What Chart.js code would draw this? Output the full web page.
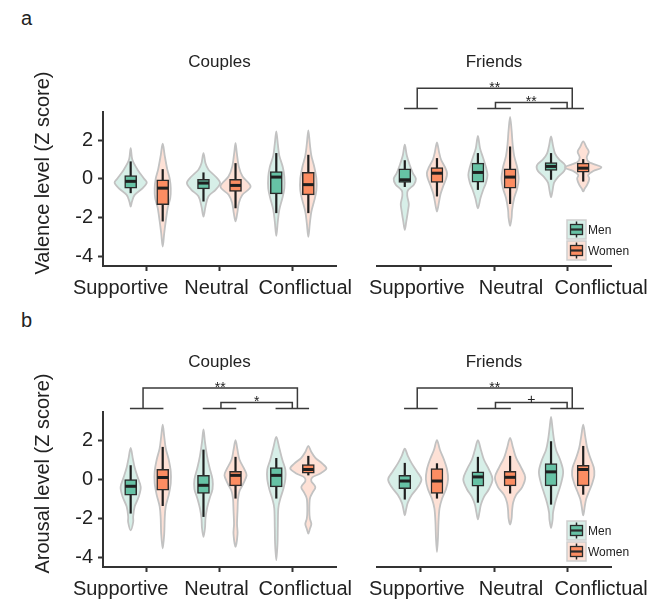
<!DOCTYPE html>
<html>
<head>
<meta charset="utf-8">
<script src="https://cdn.jsdelivr.net/npm/chart.js@4.4.1/dist/chart.umd.min.js"></script>
<style>
html,body{margin:0;padding:0;background:#fff;}
#wrap{position:relative;width:665px;height:610px;overflow:hidden;font-family:'Liberation Sans',Arial,sans-serif;background:#fff;}
canvas{position:absolute;}
.lab{position:absolute;font-size:20px;color:#222;line-height:1;}
</style>
</head>
<body>
<div id="wrap">
  <div class="lab" style="left:21px;top:8px">a</div>
  <div class="lab" style="left:21px;top:310px">b</div>
  <canvas id="c1" width="365" height="300" style="left:0;top:0"></canvas>
  <canvas id="c2" width="345" height="300" style="left:320px;top:0"></canvas>
  <canvas id="c3" width="365" height="310" style="left:0;top:300px"></canvas>
  <canvas id="c4" width="345" height="310" style="left:320px;top:300px"></canvas>
</div>
<script>
// ---------------- DATA ----------------
const categories = ['Supportive', 'Neutral', 'Conflictual'];
const yTicks = [-4, -2, 0, 2];
const panelTitles = ['Couples', 'Friends'];
const yTitles = ['Valence level (Z score)', 'Arousal level (Z score)'];
const genders = ['Men', 'Women'];

// Box stats per category: [lower whisker, Q1, median, Q3, upper whisker]
const valenceCouplesMenBox   = [[-0.74,-0.48,-0.13,0.17,0.90],[-1.17,-0.52,-0.22,0.00,0.33],[-1.77,-0.78,0.09,0.38,1.33]];
const valenceCouplesWomenBox = [[-2.20,-1.34,-0.48,-0.05,0.50],[-1.52,-0.65,-0.34,-0.02,0.81],[-1.77,-0.83,-0.30,0.33,1.24]];
const valenceFriendsMenBox   = [[-0.42,-0.18,-0.05,0.52,0.96],[-0.57,-0.17,0.33,0.81,1.33],[-0.05,0.43,0.64,0.84,1.33]];
const valenceFriendsWomenBox = [[-0.91,-0.19,0.29,0.58,1.07],[-1.30,-0.48,0.09,0.52,1.67],[-0.14,0.34,0.55,0.81,1.02]];
const arousalCouplesMenBox   = [[-1.76,-0.82,-0.36,-0.02,0.72],[-1.93,-0.73,-0.31,0.20,1.52],[-0.99,-0.39,0.20,0.60,1.09]];
const arousalCouplesWomenBox = [[-1.37,-0.56,0.09,0.51,1.66],[-0.99,-0.34,0.20,0.41,1.15],[0.20,0.31,0.50,0.75,1.20]];
const arousalFriendsMenBox   = [[-1.04,-0.48,-0.09,0.20,0.84],[-1.20,-0.36,0.12,0.38,1.15],[-1.30,-0.34,0.38,0.80,1.95]];
const arousalFriendsWomenBox = [[-0.99,-0.73,-0.09,0.55,0.82],[-0.73,-0.34,0.10,0.41,1.20],[-0.79,-0.34,0.50,0.72,1.71]];

// Violin density profiles per category: [value, density half-width]
const valenceCouplesMenViolin = [
  [[1.58,0],[0.98,1.7],[0.46,7],[0.03,13],[-0.2,16],[-0.48,12],[-0.83,4],[-1.17,1.3],[-1.43,0]],
  [[1.33,0],[0.8,2],[0.47,5],[0.12,12],[-0.22,16.5],[-0.57,12],[-0.9,5],[-1.43,2],[-1.95,0]],
  [[2.45,0],[1.8,1.5],[1.2,3],[0.6,6.5],[0.1,8],[-0.5,8],[-1.0,6],[-1.6,3],[-2.2,1.5],[-2.95,0]]
];
const valenceCouplesWomenViolin = [
  [[1.81,0],[1.2,2],[0.5,4.5],[0,7],[-0.5,8],[-1.0,7.5],[-1.5,5],[-2.2,3],[-2.8,1.5],[-3.5,0]],
  [[1.84,0],[1.33,1.3],[0.63,3.3],[0.12,7],[-0.4,15],[-0.83,6.7],[-1.26,3.3],[-1.78,1.7],[-2.2,0]],
  [[2.5,0],[1.8,1.5],[1.2,3],[0.6,6],[0,8],[-0.6,8],[-1.1,6],[-1.7,3],[-2.3,1.5],[-3.0,0]]
];
const valenceFriendsMenViolin = [
  [[1.76,0],[1.2,2],[0.7,5],[0.3,8],[0,11],[-0.3,9],[-0.6,3],[-0.9,2.5],[-1.3,4],[-1.7,3],[-2.2,1.5],[-2.64,0]],
  [[2.22,0],[1.6,2],[1.1,5],[0.6,8],[0.2,9.5],[-0.2,8],[-0.6,5],[-1.0,2.5],[-1.52,0]],
  [[2.19,0],[1.7,2],[1.3,4],[1.0,8],[0.7,14],[0.4,13],[0.1,7],[-0.2,3],[-0.6,1.5],[-0.95,0]]
];
const valenceFriendsWomenViolin = [
  [[1.88,0],[1.4,2],[1.0,4],[0.6,8],[0.3,10],[0,9],[-0.4,6],[-0.8,3.5],[-1.2,2],[-1.69,0]],
  [[3.2,0],[2.5,1.5],[1.8,2.5],[1.2,4],[0.6,7],[0,8.5],[-0.5,7],[-1.0,4],[-1.6,2],[-2.0,1.5],[-2.43,0]],
  [[1.93,0],[1.65,3],[1.4,5.5],[1.1,3.5],[0.85,6],[0.6,18],[0.4,10],[0.2,5],[0,6],[-0.3,4],[-0.5,1.5],[-0.65,0]]
];
const arousalCouplesMenViolin = [
  [[1.61,0],[1.1,2],[0.6,4],[0.1,7],[-0.4,10],[-0.9,8],[-1.4,4],[-1.9,2.5],[-2.2,2.5],[-2.62,0]],
  [[2.56,0],[1.9,1.5],[1.2,3.5],[0.6,6],[0,9],[-0.5,9],[-1.0,6],[-1.5,3.5],[-2.0,2],[-2.5,1.5],[-2.96,0]],
  [[2.17,0],[1.6,3],[1.0,6],[0.5,9],[0,9],[-0.5,7],[-1.0,4],[-1.5,2],[-2.5,1.5],[-3.3,1.2],[-4.15,0]]
];
const arousalCouplesWomenViolin = [
  [[2.8,0],[2.2,1.5],[1.6,3],[1.0,6],[0.4,8],[-0.2,8],[-0.8,6],[-1.4,3],[-2.0,2],[-2.8,1.5],[-3.55,0]],
  [[2.0,0],[1.5,2],[1.0,4],[0.5,9],[0.2,11],[-0.2,8],[-0.6,4],[-1.0,2.5],[-1.6,2],[-2.3,1.5],[-2.8,2],[-3.47,0]],
  [[1.71,0],[1.4,3],[1.1,7],[0.8,14],[0.55,18],[0.3,12],[0.1,4],[-0.1,3],[-0.4,7],[-0.7,4],[-1.0,1.5],[-1.6,1],[-2.0,1.5],[-2.3,3],[-2.55,1.5],[-2.79,0]]
];
const arousalFriendsMenViolin = [
  [[1.57,0],[1.2,3],[0.8,7],[0.4,12],[0,16.5],[-0.4,13],[-0.8,7],[-1.2,3],[-1.5,1.5],[-1.85,0]],
  [[2.0,0],[1.5,3],[1.0,6],[0.5,11],[0,14.5],[-0.5,11],[-0.9,6],[-1.3,3],[-1.7,1.5],[-2.05,0]],
  [[3.2,0],[2.6,1.5],[2.0,3],[1.5,5],[1.0,9],[0.4,12],[-0.2,10],[-0.7,7],[-1.2,4],[-1.7,2],[-2.1,1.5],[-2.5,0]]
];
const arousalFriendsWomenViolin = [
  [[2.0,0],[1.5,3],[1.0,7],[0.5,10],[0,11],[-0.5,9],[-1.0,5],[-1.5,2.5],[-2.2,1.5],[-3.0,1],[-3.73,0]],
  [[2.12,0],[1.6,3],[1.1,6],[0.6,11],[0.1,15],[-0.4,12],[-0.8,6],[-1.2,3],[-1.6,2],[-2.0,1.5],[-2.32,0]],
  [[2.8,0],[2.2,2],[1.6,4],[1.1,7],[0.6,10.5],[0.2,11],[-0.2,9],[-0.6,6],[-1.0,3],[-1.4,1.5],[-1.85,0]]
];

// Significance brackets: [from category, to category, label]
const valenceCouplesBrackets = [];
const valenceFriendsBrackets = [[1, 3, '**'], [2, 3, '**']];
const arousalCouplesBrackets = [[1, 3, '**'], [2, 3, '*']];
const arousalFriendsBrackets = [[1, 3, '**'], [2, 3, '+']];

// ---------------- STYLE ----------------
const FONT = "'Liberation Sans', Arial, Helvetica, sans-serif";
Chart.defaults.font.family = FONT;
const DODGE = 0.22;            // men / women offset within a category (x units)
const DENS_UNIT = 1 / 72.5;    // violin density unit -> x-axis units
const BOX_COLORS = ['#66c2a5', '#fc8d62'];
const VIOLIN_COLORS = ['rgba(102,194,165,0.26)', 'rgba(252,141,98,0.26)'];
const BR_BASE = 3.63, BR_INNER = 3.94, BR_OUTER = 4.68, SEG_HALF = 0.23;
// horizontal nudges (px) of the category labels so they do not collide, as in the source figure
const LABEL_NUDGE_LEFT_PANEL = [-26, -3, 13];
const LABEL_NUDGE_RIGHT_PANEL = [-4, 17, 34];

function closedSpline(ctx, pts) {
  const n = pts.length;
  ctx.beginPath();
  ctx.moveTo(pts[0][0], pts[0][1]);
  for (let i = 0; i < n; i++) {
    const p0 = pts[(i - 1 + n) % n], p1 = pts[i], p2 = pts[(i + 1) % n], p3 = pts[(i + 2) % n];
    ctx.bezierCurveTo(
      p1[0] + (p2[0] - p0[0]) / 6, p1[1] + (p2[1] - p0[1]) / 6,
      p2[0] - (p3[0] - p1[0]) / 6, p2[1] - (p3[1] - p1[1]) / 6,
      p2[0], p2[1]);
  }
  ctx.closePath();
}

function drawKeyGlyph(ctx, x0, y0, s, gi) {
  ctx.fillStyle = VIOLIN_COLORS[gi];
  ctx.fillRect(x0, y0, s, s);
  ctx.strokeStyle = '#cfcfcf'; ctx.lineWidth = 1.5;
  ctx.strokeRect(x0, y0, s, s);
  const cx = x0 + s / 2;
  ctx.strokeStyle = '#222'; ctx.lineWidth = 1.5;
  ctx.beginPath(); ctx.moveTo(cx, y0 + 1.5); ctx.lineTo(cx, y0 + s - 1.5); ctx.stroke();
  ctx.fillStyle = BOX_COLORS[gi];
  ctx.fillRect(x0 + 3.5, y0 + 4.5, s - 7, s - 9);
  ctx.strokeStyle = '#2b2b2b'; ctx.lineWidth = 1.3;
  ctx.strokeRect(x0 + 3.5, y0 + 4.5, s - 7, s - 9);
  ctx.lineWidth = 2.2;
  ctx.beginPath(); ctx.moveTo(x0 + 3.5, y0 + s / 2); ctx.lineTo(x0 + s - 3.5, y0 + s / 2); ctx.stroke();
}

function buildPanel(canvasId, p) {
  const groups = [
    { box: p.menBox, violin: p.menViolin, off: -DODGE },
    { box: p.womenBox, violin: p.womenViolin, off: DODGE }
  ];
  const datasets = groups.map((g, gi) => ({
    type: 'bar',
    label: genders[gi],
    data: g.box.map((b, i) => ({ x: i + 1 + g.off, y: [b[1], b[3]] })),
    backgroundColor: BOX_COLORS[gi],
    borderColor: '#2b2b2b',
    borderWidth: 1.5,
    borderSkipped: false,
    barThickness: 12,
    grouped: false
  }));

  const plugin = {
    id: 'violinBox',
    beforeDatasetsDraw(chart) {
      const { ctx, chartArea: a, scales: { x, y } } = chart;
      ctx.save();
      ctx.beginPath(); ctx.rect(a.left, a.top - 40, a.right - a.left, a.bottom - a.top + 40); ctx.clip();
      groups.forEach((g, gi) => {
        g.violin.forEach((prof, i) => {
          const c = i + 1 + g.off;
          const right = prof.map(([v, d]) => [x.getPixelForValue(c + d * DENS_UNIT), y.getPixelForValue(v)]);
          const left = prof.slice(1, -1).reverse().map(([v, d]) => [x.getPixelForValue(c - d * DENS_UNIT), y.getPixelForValue(v)]);
          closedSpline(ctx, right.concat(left));
          ctx.fillStyle = VIOLIN_COLORS[gi];
          ctx.fill();
          ctx.strokeStyle = '#c2c2c2';
          ctx.lineWidth = 1.8;
          ctx.lineJoin = 'round';
          ctx.stroke();
        });
      });
      groups.forEach(g => {
        g.box.forEach((b, i) => {
          const px = x.getPixelForValue(i + 1 + g.off);
          ctx.beginPath();
          ctx.moveTo(px, y.getPixelForValue(b[0]));
          ctx.lineTo(px, y.getPixelForValue(b[4]));
          ctx.strokeStyle = '#1f1f1f';
          ctx.lineWidth = 2.2;
          ctx.stroke();
        });
      });
      ctx.restore();
    },
    afterDatasetsDraw(chart) {
      const { ctx, scales: { y } } = chart;
      ctx.save();
      groups.forEach((g, gi) => {
        const meta = chart.getDatasetMeta(gi);
        g.box.forEach((b, i) => {
          const el = meta.data[i];
          const py = y.getPixelForValue(b[2]);
          ctx.beginPath();
          ctx.moveTo(el.x - el.width / 2 + 0.5, py);
          ctx.lineTo(el.x + el.width / 2 - 0.5, py);
          ctx.strokeStyle = '#1f1f1f';
          ctx.lineWidth = 3;
          ctx.stroke();
        });
      });
      ctx.restore();
    },
    afterDraw(chart) {
      const { ctx, chartArea: a, scales: { x, y } } = chart;
      ctx.save();
      // category labels
      ctx.fillStyle = '#222';
      ctx.font = '20px ' + FONT;
      ctx.textAlign = 'center';
      ctx.textBaseline = 'middle';
      x.ticks.forEach((t, i) => {
        ctx.fillText(categories[i], x.getPixelForValue(t.value) + p.labelNudge[i], a.bottom + 22);
      });
      // brackets
      if (p.brackets.length) {
        ctx.strokeStyle = '#3a3a3a';
        ctx.lineWidth = 1.5;
        const used = new Set();
        p.brackets.forEach(br => { used.add(br[0]); used.add(br[1]); });
        const yb = y.getPixelForValue(BR_BASE);
        used.forEach(c => {
          ctx.beginPath();
          ctx.moveTo(x.getPixelForValue(c - SEG_HALF), yb);
          ctx.lineTo(x.getPixelForValue(c + SEG_HALF), yb);
          ctx.stroke();
        });
        p.brackets.forEach(([from, to, lab]) => {
          const outer = (to - from) > 1;
          const l = x.getPixelForValue(outer ? from - 0.05 : from + 0.02);
          const r = x.getPixelForValue(outer ? to + 0.07 : to);
          const yt = y.getPixelForValue(outer ? BR_OUTER : BR_INNER);
          ctx.beginPath();
          ctx.moveTo(l, yb); ctx.lineTo(l, yt); ctx.lineTo(r, yt); ctx.lineTo(r, yb);
          ctx.stroke();
          ctx.fillStyle = '#222';
          ctx.font = '14px ' + FONT;
          ctx.textAlign = 'center';
          ctx.textBaseline = 'alphabetic';
          ctx.fillText(lab, (l + r) / 2, yt + (lab === '+' ? 1.5 : 3.5));
        });
      }
      // y-axis title
      if (p.yTitle) {
        ctx.save();
        ctx.translate(43, (a.top + a.bottom) / 2 - 16);
        ctx.rotate(-Math.PI / 2);
        ctx.fillStyle = '#222';
        ctx.font = '20px ' + FONT;
        ctx.textAlign = 'center';
        ctx.textBaseline = 'middle';
        ctx.fillText(p.yTitle, 0, 0);
        ctx.restore();
      }
      // legend
      if (p.legend) {
        const s = 19;
        const kx = a.right - 44;
        [a.bottom - 46, a.bottom - 25].forEach((ky, gi) => {
          drawKeyGlyph(ctx, kx, ky, s, gi);
          ctx.fillStyle = '#222';
          ctx.font = '12px ' + FONT;
          ctx.textAlign = 'left';
          ctx.textBaseline = 'middle';
          ctx.fillText(genders[gi], kx + s + 2, ky + s / 2 + 1);
        });
      }
      ctx.restore();
    }
  };

  return new Chart(document.getElementById(canvasId), {
    type: 'bar',
    data: { datasets },
    options: {
      responsive: false,
      animation: false,
      events: [],
      layout: { padding: p.padding },
      plugins: {
        legend: { display: false },
        tooltip: { enabled: false },
        title: {
          display: true, text: p.title, fullSize: false,
          color: '#222', font: { size: 17, weight: 'normal' },
          padding: { top: 52, bottom: 39.6 }
        }
      },
      scales: {
        x: {
          type: 'linear', min: 0.4, max: 3.6, offset: false,
          afterBuildTicks: s => { s.ticks = categories.map((c, i) => ({ value: i + 1 })); },
          afterFit: s => { s.height = 34; },
          ticks: { display: false, callback: v => categories[Math.round(v) - 1] || '' },
          grid: { display: true, offset: false, drawOnChartArea: false, drawTicks: true, tickLength: 5, tickColor: '#333', tickWidth: 2 },
          border: { display: true, color: '#333', width: 2 }
        },
        y: {
          type: 'linear', min: -4.5, max: 3.45,
          display: p.showY,
          afterBuildTicks: s => { s.ticks = yTicks.map(v => ({ value: v })); },
          afterFit: s => { if (p.showY) s.width = 103; },
          ticks: { callback: v => String(v), color: '#222', font: { size: 20 }, padding: 5 },
          grid: { display: true, offset: false, drawOnChartArea: false, drawTicks: true, tickLength: 5, tickColor: '#333', tickWidth: 2 },
          border: { display: true, color: '#333', width: 2 }
        }
      }
    },
    plugins: [plugin]
  });
}

buildPanel('c1', {
  title: panelTitles[0], yTitle: yTitles[0], showY: true, legend: false,
  menBox: valenceCouplesMenBox, womenBox: valenceCouplesWomenBox,
  menViolin: valenceCouplesMenViolin, womenViolin: valenceCouplesWomenViolin,
  brackets: valenceCouplesBrackets, labelNudge: LABEL_NUDGE_LEFT_PANEL,
  padding: { left: 0, right: 29, top: 0, bottom: 0 }
});
buildPanel('c2', {
  title: panelTitles[1], yTitle: null, showY: false, legend: true,
  menBox: valenceFriendsMenBox, womenBox: valenceFriendsWomenBox,
  menViolin: valenceFriendsMenViolin, womenViolin: valenceFriendsWomenViolin,
  brackets: valenceFriendsBrackets, labelNudge: LABEL_NUDGE_RIGHT_PANEL,
  padding: { left: 57, right: 54, top: 0, bottom: 0 }
});
buildPanel('c3', {
  title: panelTitles[0], yTitle: yTitles[1], showY: true, legend: false,
  menBox: arousalCouplesMenBox, womenBox: arousalCouplesWomenBox,
  menViolin: arousalCouplesMenViolin, womenViolin: arousalCouplesWomenViolin,
  brackets: arousalCouplesBrackets, labelNudge: LABEL_NUDGE_LEFT_PANEL,
  padding: { left: 0, right: 29, top: 0, bottom: 9 }
});
buildPanel('c4', {
  title: panelTitles[1], yTitle: null, showY: false, legend: true,
  menBox: arousalFriendsMenBox, womenBox: arousalFriendsWomenBox,
  menViolin: arousalFriendsMenViolin, womenViolin: arousalFriendsWomenViolin,
  brackets: arousalFriendsBrackets, labelNudge: LABEL_NUDGE_RIGHT_PANEL,
  padding: { left: 57, right: 54, top: 0, bottom: 9 }
});
</script>
</body>
</html>
